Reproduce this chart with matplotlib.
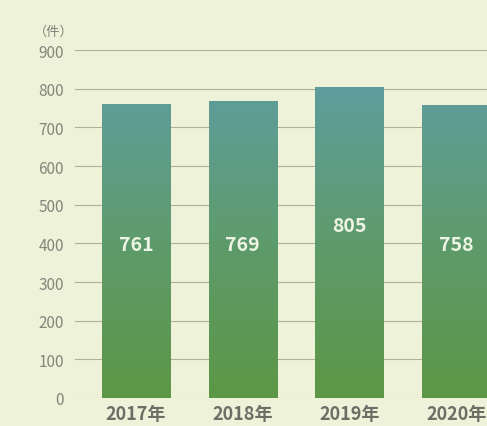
import numpy as np
import matplotlib.pyplot as plt
from matplotlib.colors import LinearSegmentedColormap

plt.rcParams['font.family'] = ['Noto Sans CJK JP', 'DejaVu Sans']

# Data
years = ['2017年', '2018年', '2019年', '2020年']
counts = [761, 769, 805, 758]
yticks = [0, 100, 200, 300, 400, 500, 600, 700, 800, 900]

bg = '#eef2d9'
grid_col = '#b3af96'
tick_col = '#85857a'

fig = plt.figure(figsize=(4.87, 4.27), dpi=100)
fig.patch.set_facecolor(bg)
ax = fig.add_axes([75 / 487, 28 / 427, 412 / 487, 348 / 427])
ax.set_facecolor(bg)

x = np.arange(len(years))

# gridlines
for v in yticks:
    ax.axhline(v, color=grid_col, lw=0.8, zorder=1)

# gradient bars (teal on top, green at the bottom)
cmap = LinearSegmentedColormap.from_list('bar', ['#5c9746', '#5e9b6c', '#5f9d9e'])
grad = np.linspace(0, 1, 256).reshape(-1, 1)
bars = ax.bar(x, counts, width=0.64, color='none', zorder=2)
for b in bars:
    x0, w = b.get_x(), b.get_width()
    im = ax.imshow(grad, cmap=cmap, origin='lower', aspect='auto',
                   extent=[x0, x0 + w, 0, 810], zorder=2)
    im.set_clip_path(b)

ax.set_xlim(-0.572, 3.29)
ax.set_ylim(0, 900)

# value labels
for xi, c in zip(x, counts):
    ypos = 447 if c == max(counts) else 398
    ax.text(xi, ypos, str(c), ha='center', va='center', color='#eef4e4',
            fontsize=14, fontweight='bold', zorder=3)

ax.set_yticks(yticks)
ax.set_yticklabels([str(v) for v in yticks])
ax.set_xticks(x)
ax.set_xticklabels(years)
ax.tick_params(axis='y', length=0, pad=8, labelsize=11, labelcolor=tick_col)
ax.tick_params(axis='x', length=0, pad=4, labelsize=13, labelcolor='#6e6e66')
for lab in ax.get_xticklabels():
    lab.set_fontweight('bold')
for s in ax.spines.values():
    s.set_visible(False)

fig.text(34 / 487, 1 - 32 / 427, '（件）', ha='left', va='center',
         fontsize=9.5, color=tick_col)

fig.savefig('out.png', dpi=100, facecolor=bg)
